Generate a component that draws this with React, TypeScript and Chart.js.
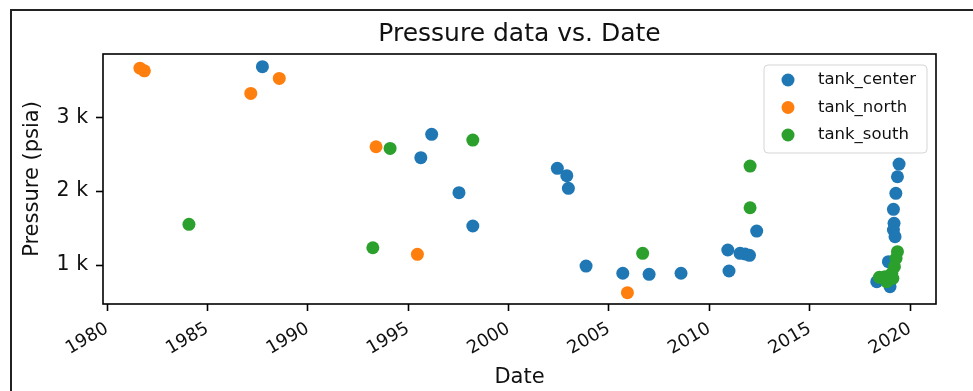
import React, { useEffect, useRef } from "react";
import { Chart, registerables } from "chart.js";

Chart.register(...registerables);

const TITLE = "Pressure data vs. Date";
const X_LABEL = "Date";
const Y_LABEL = "Pressure (psia)";
const SERIES_NAMES = ["tank_center", "tank_north", "tank_south"];
const SERIES_COLORS = ["#1f77b4", "#ff7f0e", "#2ca02c"];

const X_TICKS = [1980, 1985, 1990, 1995, 2000, 2005, 2010, 2015, 2020];
const Y_TICKS = [1000, 2000, 3000];
const Y_TICK_LABELS = ["1 k", "2 k", "3 k"];
const X_MIN = 1979.8;
const X_MAX = 2021.29;
const Y_MIN = 472;
const Y_MAX = 3857;

// decimal years / psia
const CENTER_YEARS = [
  1987.74, 1995.63, 1996.17, 1997.53, 1998.22, 2002.43, 2002.9, 2002.98, 2003.86,
  2005.69, 2007.0, 2008.59, 2010.92, 2010.98, 2011.53, 2011.78, 2012.0, 2012.36,
  2018.34, 2019.0, 2018.92, 2019.17, 2019.2, 2019.25, 2019.17, 2019.29, 2019.37, 2019.45,
];
const CENTER_PSIA = [
  3685, 2453, 2770, 1979, 1528, 2309, 2209, 2038, 986,
  888, 874, 888, 1203, 919, 1158, 1149, 1131, 1460,
  774, 706, 1045, 1474, 1564, 1383, 1754, 1970, 2195, 2367,
];
const NORTH_YEARS = [1981.64, 1981.86, 1987.16, 1988.58, 1993.4, 1995.46, 2005.92];
const NORTH_PSIA = [3665, 3629, 3323, 3526, 2601, 1145, 625];
const SOUTH_YEARS = [
  1984.08, 1993.24, 1994.1, 1998.22, 2006.68, 2012.03, 2012.03,
  2018.47, 2018.75, 2018.84, 2019.09, 2019.14, 2019.22, 2019.3, 2019.37,
];
const SOUTH_PSIA = [
  1551, 1234, 2579, 2691, 1158, 2340, 1775,
  833, 842, 774, 888, 820, 977, 1091, 1180,
];

const FONT = '"DejaVu Sans", sans-serif';

const toPoints = (xs: number[], ys: number[]) => xs.map((x, i) => ({ x, y: ys[i] }));

const framePlugin = {
  id: "frame",
  afterDatasetsDraw(chart: any) {
    const { ctx, chartArea: a } = chart;
    ctx.save();
    ctx.strokeStyle = "#000";
    ctx.lineWidth = 1.6;
    ctx.strokeRect(a.left, a.top, a.right - a.left, a.bottom - a.top);
    ctx.restore();
  },
};

const titlePlugin = {
  id: "mplTitle",
  afterDraw(chart: any) {
    const { ctx, chartArea: a } = chart;
    ctx.save();
    ctx.font = `25px ${FONT}`;
    ctx.fillStyle = "#111";
    ctx.textAlign = "center";
    ctx.textBaseline = "alphabetic";
    ctx.fillText(TITLE, (a.left + a.right) / 2, a.top - 13);
    ctx.restore();
  },
};

const legendPlugin = {
  id: "mplLegend",
  afterDraw(chart: any) {
    const { ctx, chartArea: a } = chart;
    const w = 163;
    const h = 88;
    const x = a.right - 9 - w;
    const y = a.top + 11;
    ctx.save();
    ctx.beginPath();
    if (ctx.roundRect) ctx.roundRect(x, y, w, h, 4);
    else ctx.rect(x, y, w, h);
    ctx.fillStyle = "rgba(255,255,255,0.8)";
    ctx.fill();
    ctx.strokeStyle = "#d5d5d5";
    ctx.lineWidth = 1;
    ctx.stroke();
    ctx.font = `16.5px ${FONT}`;
    ctx.textAlign = "left";
    ctx.textBaseline = "middle";
    chart.data.datasets.forEach((ds: any, i: number) => {
      const ry = y + 15 + i * 27.5;
      ctx.beginPath();
      ctx.arc(x + 24, ry, 6.5, 0, Math.PI * 2);
      ctx.fillStyle = ds.backgroundColor;
      ctx.fill();
      ctx.fillStyle = "#111";
      ctx.fillText(ds.label, x + 54, ry);
    });
    ctx.restore();
  },
};

export default function App() {
  const ref = useRef<HTMLCanvasElement | null>(null);

  useEffect(() => {
    if (!ref.current) return;
    const series = [
      toPoints(CENTER_YEARS, CENTER_PSIA),
      toPoints(NORTH_YEARS, NORTH_PSIA),
      toPoints(SOUTH_YEARS, SOUTH_PSIA),
    ];
    const chart = new Chart(ref.current, {
      type: "scatter",
      data: {
        datasets: series.map((data, i) => ({
          label: SERIES_NAMES[i],
          data,
          backgroundColor: SERIES_COLORS[i],
          borderColor: SERIES_COLORS[i],
          borderWidth: 0,
          pointRadius: 6.5,
          pointHoverRadius: 6.5,
          order: 3 - i,
        })),
      },
      options: {
        responsive: false,
        animation: false,
        events: [],
        layout: { padding: { left: 0, top: 54, right: 37, bottom: 0 } },
        plugins: {
          legend: { display: false },
          title: { display: false },
          tooltip: { enabled: false },
        },
        scales: {
          x: {
            type: "linear",
            min: X_MIN,
            max: X_MAX,
            afterBuildTicks: (s: any) => {
              s.ticks = X_TICKS.map((v) => ({ value: v }));
            },
            afterFit: (s: any) => {
              s.height = 87;
            },
            grid: {
              display: true,
              drawOnChartArea: false,
              drawTicks: true,
              tickLength: 7,
              tickColor: "#000",
              tickWidth: 1.6,
            },
            border: { display: false },
            ticks: {
              autoSkip: false,
              minRotation: 30,
              maxRotation: 30,
              padding: 7,
              color: "#111",
              font: { family: FONT, size: 18 },
              callback: (v: any) => String(v),
            },
            title: {
              display: true,
              text: X_LABEL,
              color: "#111",
              font: { family: FONT, size: 21 },
              padding: { top: 0, bottom: 1 },
            },
          },
          y: {
            type: "linear",
            min: Y_MIN,
            max: Y_MAX,
            afterBuildTicks: (s: any) => {
              s.ticks = Y_TICKS.map((v) => ({ value: v }));
            },
            afterFit: (s: any) => {
              s.width = 103;
            },
            grid: {
              display: true,
              drawOnChartArea: false,
              drawTicks: true,
              tickLength: 7,
              tickColor: "#000",
              tickWidth: 1.6,
            },
            border: { display: false },
            ticks: {
              padding: 8,
              color: "#111",
              font: { family: FONT, size: 20.5 },
              callback: (v: any) => {
                const i = Y_TICKS.indexOf(Number(v));
                return i >= 0 ? Y_TICK_LABELS[i] : "";
              },
            },
            title: {
              display: true,
              text: Y_LABEL,
              color: "#111",
              font: { family: FONT, size: 21 },
              padding: { top: 20, bottom: 0 },
            },
          },
        },
      },
      plugins: [framePlugin, titlePlugin, legendPlugin],
    } as any);
    return () => chart.destroy();
  }, []);

  return (
    <div
      style={{
        position: "fixed",
        left: 0,
        top: 0,
        width: 973,
        height: 391,
        overflow: "hidden",
        background: "#fff",
      }}
    >
      <div
        style={{
          position: "absolute",
          left: 10,
          top: 9,
          width: 1000,
          height: 420,
          border: "2px solid #222",
          boxSizing: "border-box",
        }}
      />
      <canvas
        ref={ref}
        width={973}
        height={391}
        style={{ position: "absolute", left: 0, top: 0, width: 973, height: 391 }}
      />
    </div>
  );
}
